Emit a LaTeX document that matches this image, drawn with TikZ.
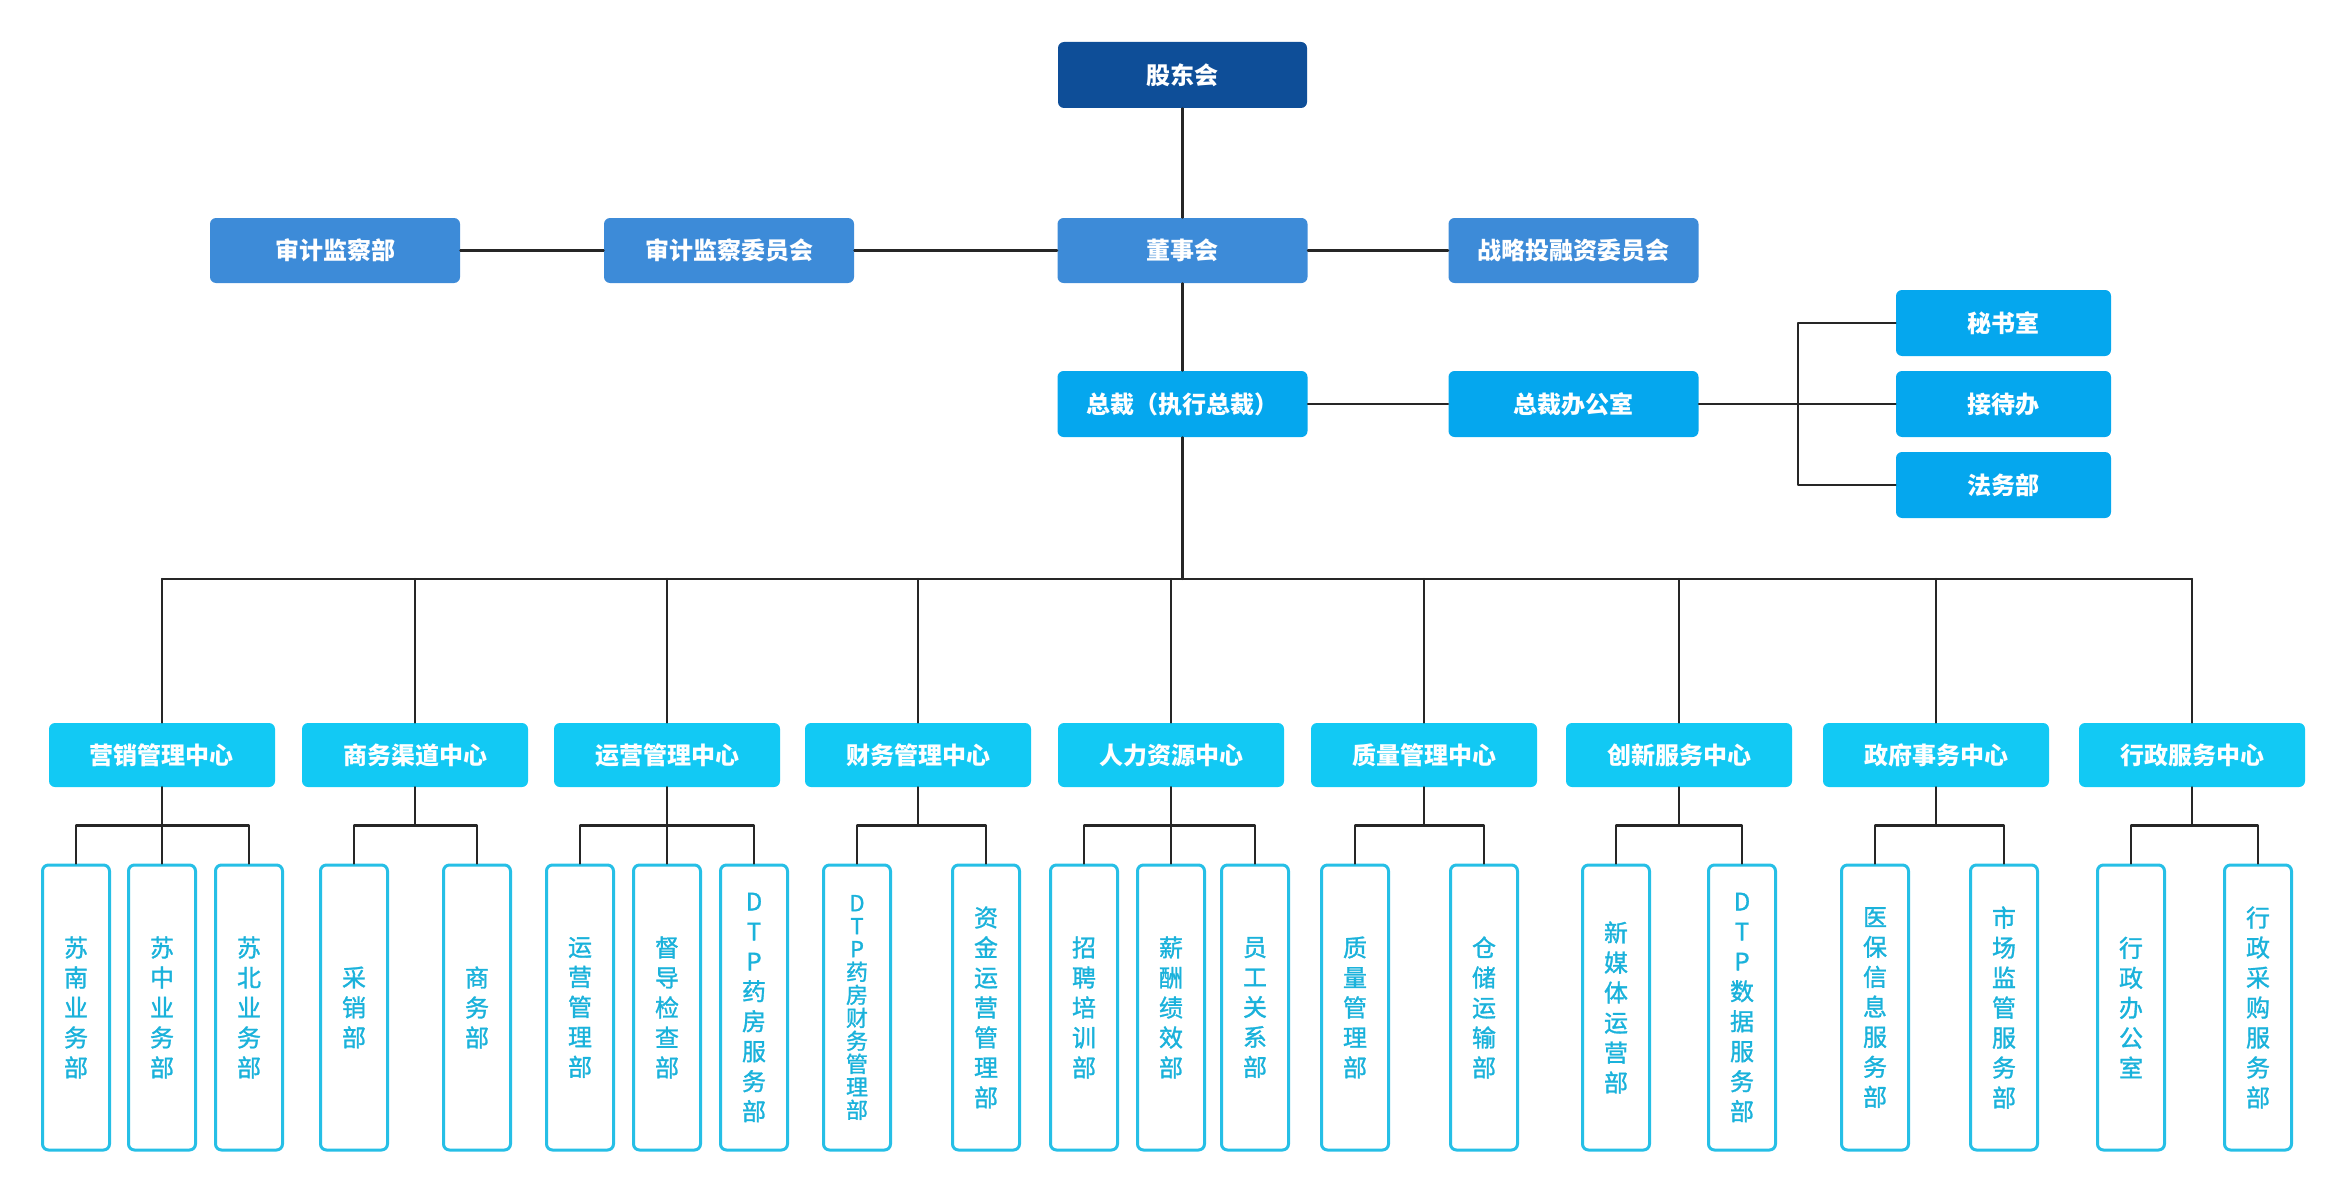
\documentclass[tikz,border=0pt]{standalone}
\usepackage{fontspec}
\newfontfamily\cjk{Noto Sans CJK SC}
\newfontfamily\cjkm{Noto Sans CJK SC}[FakeBold=1.2]
\usetikzlibrary{calc}

\definecolor{gdblue}{HTML}{0E4E98}
\definecolor{dsblue}{HTML}{3D8BD8}
\definecolor{zcblue}{HTML}{05A7EE}
\definecolor{zxcyan}{HTML}{12C9F4}
\definecolor{bmcyan}{HTML}{26BFE6}
\definecolor{bmtext}{HTML}{1AB2DB}
\definecolor{xian}{HTML}{262626}

\begin{document}
\begin{tikzpicture}[x=0.5pt,y=-0.5pt,line cap=round,line join=round,
	box/.style={rounded corners=3pt,text=white,inner sep=0pt,
		font={\cjk\bfseries\fontsize{12}{14}\selectfont}},
	gdbox/.style={box,fill=gdblue,minimum width=124.5pt,minimum height=33pt},
	dsbox/.style={box,fill=dsblue,minimum width=125pt,minimum height=32.5pt},
	zcbox/.style={box,fill=zcblue,minimum width=125pt,minimum height=33pt},
	msbox/.style={box,fill=zcblue,minimum width=107.5pt,minimum height=33pt},
	zxbox/.style={box,fill=zxcyan,minimum width=113pt,minimum height=32pt},
	bmbox/.style={draw=bmcyan,line width=1.5pt,rounded corners=3pt,fill=white,
		text=bmtext,inner sep=0pt,align=center,
		minimum width=33.5pt,minimum height=142.5pt,
		font={\cjkm\fontsize{12}{15}\selectfont}},
	lian/.style={draw=xian,line width=1.1pt}]

	\useasboundingbox (0,0) rectangle (2347,1193);

	% ylin taso
	\node[gdbox] (gdh) at (1182.5,75) {股东会};
	\node[dsbox] (dsh) at (1182.5,250.5) {董事会};
	\node[dsbox] (sjwyh) at (729,250.5) {审计监察委员会};
	\node[dsbox] (sjb) at (335,250.5) {审计监察部};
	\node[dsbox] (zlwyh) at (1573.5,250.5) {战略投融资委员会};
	\node[zcbox] (zc) at (1182.5,404) {总裁（执行总裁）};
	\node[zcbox] (zcb) at (1573.5,404) {总裁办公室};
	\node[msbox] (msh) at (2003.5,323) {秘书室};
	\node[msbox] (jdb) at (2003.5,404) {接待办};
	\node[msbox] (fwb) at (2003.5,485) {法务部};

	\draw[lian] (gdh) -- (dsh);
	\draw[lian] (dsh) -- (sjwyh);
	\draw[lian] (sjwyh) -- (sjb);
	\draw[lian] (dsh) -- (zlwyh);
	\draw[lian] (dsh) -- (zc);
	\draw[lian] (zc) -- (zcb);

	\coordinate (haara) at (1798,404);
	\draw[lian] (zcb.east) -- (haara);
	\foreach \n in {msh,jdb,fwb}
	{\draw[lian] (haara) |- (\n.west);}

	% keskukset
	\foreach \g/\x/\t in {1/162/营销管理中心, 2/415/商务渠道中心, 3/667/运营管理中心,
		4/918/财务管理中心, 5/1171/人力资源中心, 6/1424/质量管理中心,
		7/1679/创新服务中心, 8/1936/政府事务中心, 9/2192/行政服务中心}
	{\node[zxbox] (c\g) at (\x,755) {\t};}

	\coordinate (vayla) at (1182.5,579);
	\draw[lian] (zc.south) -- (vayla);
	\draw[lian] (c1.north |- vayla) -- (c9.north |- vayla);
	\foreach \g in {1,...,9}
	{\draw[lian] (c\g.north) -- (c\g.north |- vayla);}

	% osastot
	\foreach \g/\j/\x/\t in {1/1/76/{苏\\南\\业\\务\\部}, 1/2/162/{苏\\中\\业\\务\\部},
		1/3/249/{苏\\北\\业\\务\\部},
		2/1/354/{采\\销\\部}, 2/2/477/{商\\务\\部},
		3/1/580/{运\\营\\管\\理\\部}, 3/2/667/{督\\导\\检\\查\\部},
		3/3/754/{D\\T\\P\\药\\房\\服\\务\\部},
		4/2/986/{资\\金\\运\\营\\管\\理\\部},
		5/1/1084/{招\\聘\\培\\训\\部}, 5/2/1171/{薪\\酬\\绩\\效\\部},
		5/3/1255/{员\\工\\关\\系\\部},
		6/1/1355/{质\\量\\管\\理\\部}, 6/2/1484/{仓\\储\\运\\输\\部},
		7/1/1616/{新\\媒\\体\\运\\营\\部}, 7/2/1742/{D\\T\\P\\数\\据\\服\\务\\部},
		8/1/1875/{医\\保\\信\\息\\服\\务\\部}, 8/2/2004/{市\\场\\监\\管\\服\\务\\部},
		9/1/2131/{行\\政\\办\\公\\室}, 9/2/2258/{行\\政\\采\\购\\服\\务\\部}}
	{\node[bmbox] (o\g\j) at (\x,1007.5) {\t};
	\draw[lian] (c\g.south) -- ++(0,38) -| (o\g\j.north);}

	% pitka nimi pienemmalla
	\node[bmbox,font={\cjkm\fontsize{11}{11.5}\selectfont}] (o41) at (857,1007.5)
		{D\\T\\P\\药\\房\\财\\务\\管\\理\\部};
	\draw[lian] (c4.south) -- ++(0,38) -| (o41.north);

\end{tikzpicture}
\end{document}
